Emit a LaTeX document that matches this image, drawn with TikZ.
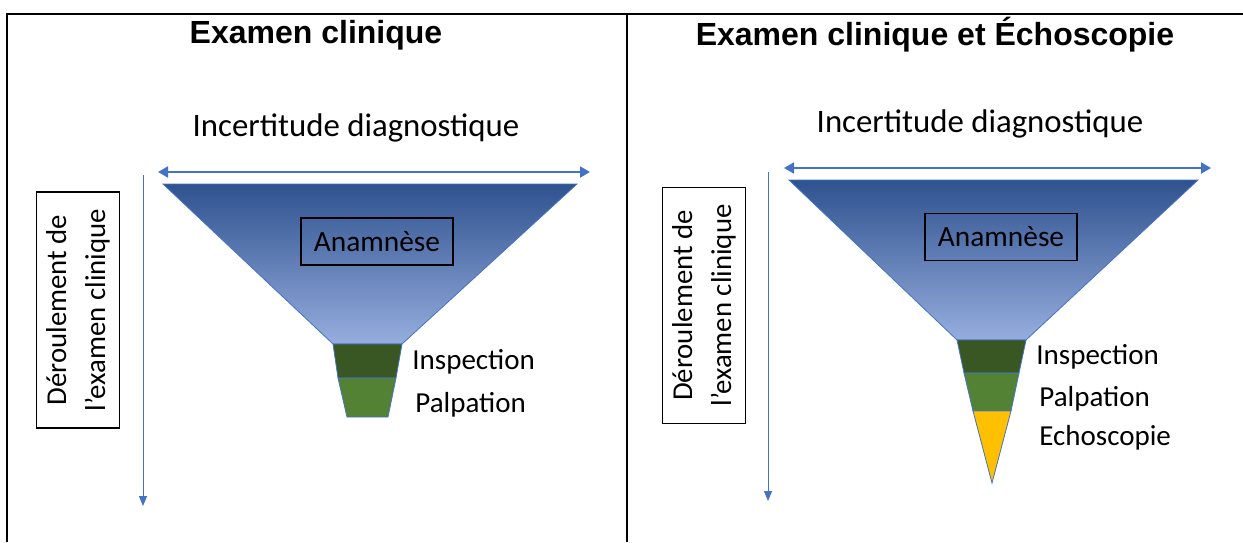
\documentclass[tikz,border=0pt]{standalone}
\usepackage{fontspec}
\setmainfont{Carlito}
\newfontfamily\headfont{Liberation Sans}
\usepackage{tikz}
\usetikzlibrary{arrows.meta}

\definecolor{axisblue}{RGB}{68,114,196}
\definecolor{funneltop}{RGB}{47,82,143}
\definecolor{funnelmid}{RGB}{72,115,196}
\definecolor{funnelbot}{RGB}{150,173,222}
\definecolor{inspgreen}{RGB}{56,87,35}
\definecolor{palpgreen}{RGB}{84,130,53}
\definecolor{echoyellow}{RGB}{255,192,0}

\tikzset{
  paneltitle/.style={font=\headfont\bfseries\fontsize{16}{19}\selectfont},
  axistitle/.style={font=\fontsize{16.4}{19}\selectfont},
  steplabel/.style={font=\fontsize{14.5}{17}\selectfont, anchor=west, inner sep=0pt},
  anambox/.style={draw=black, line width=0.6pt, minimum width=76pt, minimum height=23.5pt,
    font=\fontsize{14.7}{17}\selectfont},
  flowbox/.style={draw=black, fill=white, line width=0.6pt, rotate=90, align=center,
    minimum width=118pt, minimum height=41.5pt, inner sep=0pt,
    font=\fontsize{14.4}{19.5}\selectfont},
  spanarrow/.style={axisblue, line width=1pt, {Triangle[length=5pt,width=5.5pt]}-{Triangle[length=5pt,width=5.5pt]}},
  flowarrow/.style={axisblue, line width=0.5pt, -{Triangle[length=5pt,width=4pt]}},
  funnel/.style={draw=axisblue, line width=0.4pt, top color=funneltop, middle color=funnelmid, bottom color=funnelbot},
  stage/.style={draw=axisblue, line width=0.4pt}
}

\begin{document}
\begin{tikzpicture}[x=0.5pt,y=-0.5pt]
\useasboundingbox (0,0) rectangle (1243,542);

% frame
\draw[line width=1pt] (7,542) |- (1243,14);
\draw[line width=1pt] (627,14) -- (627,542);

% left panel
\node[paneltitle] (titleA) at (316,35) {Examen clinique};
\node[axistitle] (incertA) at (356,128) {Incertitude diagnostique};
\coordinate (spanAl) at (158,172);
\coordinate (spanAr) at (590,172);
\draw[spanarrow] (spanAl) -- (spanAr);
\coordinate (flowAtop) at (143,175);
\coordinate (flowAbot) at (143,506);
\draw[flowarrow] (flowAtop) -- (flowAbot);
\node[flowbox] (flowA) at (78,310) {Déroulement de\\l’examen clinique};

\shade[funnel] (163,184) -- (577,184) -- (402,344) -- (333,344) -- cycle;
\filldraw[stage, fill=inspgreen] (333,344) -- (402,344) -- (396,378) -- (338,378) -- cycle;
\filldraw[stage, fill=palpgreen] (338,378) -- (396,378) -- (388,417) -- (347,417) -- cycle;
\node[anambox] (anamA) at (377,241.5) {Anamnèse};
\node[steplabel] (inspA) at (412,362) {Inspection};
\node[steplabel] (palpA) at (415,405) {Palpation};

% right panel
\node[paneltitle] (titleB) at (935,35) {Examen clinique et Échoscopie};
\node[axistitle] (incertB) at (980,124) {Incertitude diagnostique};
\coordinate (spanBl) at (784,168);
\coordinate (spanBr) at (1211,168);
\draw[spanarrow] (spanBl) -- (spanBr);
\coordinate (flowBtop) at (768,172);
\coordinate (flowBbot) at (768,501);
\draw[flowarrow] (flowBtop) -- (flowBbot);
\node[flowbox] (flowB) at (704,305.5) {Déroulement de\\l’examen clinique};

\shade[funnel] (789,180) -- (1198,180) -- (1026,340) -- (957,340) -- cycle;
\filldraw[stage, fill=inspgreen] (957,340) -- (1026,340) -- (1019,373) -- (964,373) -- cycle;
\filldraw[stage, fill=palpgreen] (964,373) -- (1019,373) -- (1011,411) -- (973,411) -- cycle;
\filldraw[stage, fill=echoyellow] (973,411) -- (1011,411) -- (992,483) -- cycle;
\node[anambox] (anamB) at (1001,237) {Anamnèse};
\node[steplabel] (inspB) at (1036,357) {Inspection};
\node[steplabel] (palpB) at (1039,399) {Palpation};
\node[steplabel] (echoB) at (1039,438) {Echoscopie};
\end{tikzpicture}
\end{document}
